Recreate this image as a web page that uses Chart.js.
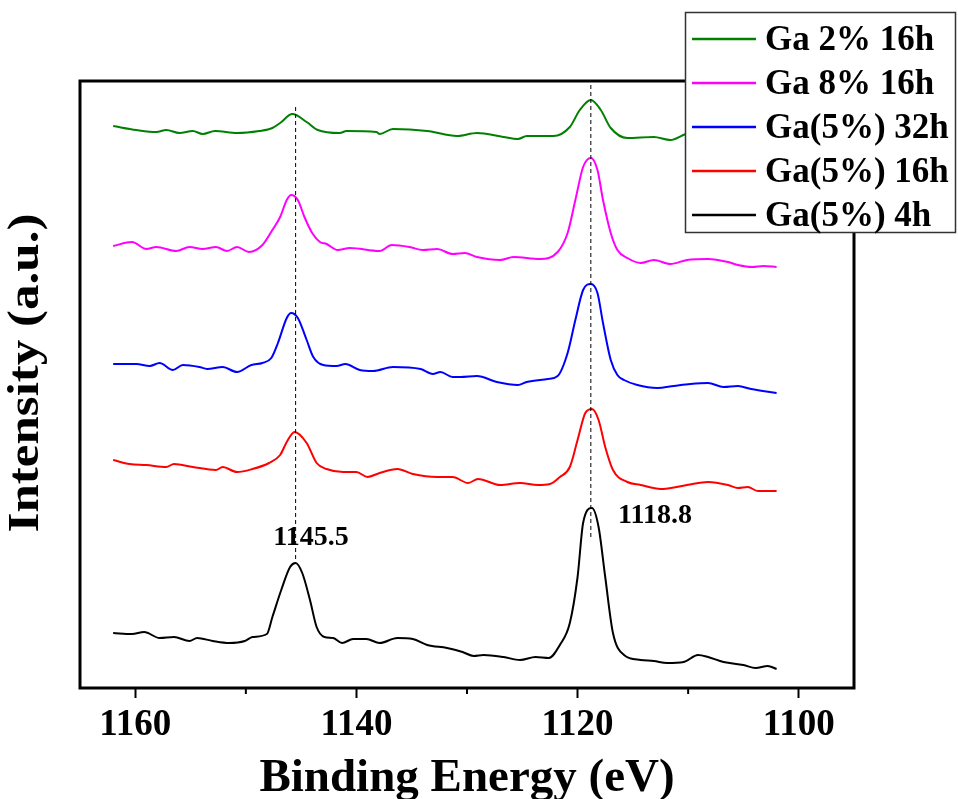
<!DOCTYPE html>
<html>
<head>
<meta charset="utf-8">
<script src="https://cdn.jsdelivr.net/npm/chart.js@4/dist/chart.umd.min.js"></script>
<style>
html,body{margin:0;padding:0;background:#fff;}
#wrap{width:958px;height:799px;position:relative;}
</style>
</head>
<body>
<div id="wrap"><canvas id="c" width="958" height="799"></canvas></div>
<script>
// ---- data (binding energy in eV, intensity in arbitrary offset units) ----
const seriesNames = ['Ga 2% 16h', 'Ga 8% 16h', 'Ga(5%) 32h', 'Ga(5%) 16h', 'Ga(5%) 4h'];
const seriesColors = ['#008000', '#FF00FF', '#0000FF', '#FF0000', '#000000'];

const eGa2_16 = [1162.0,1159.9,1158.1,1157.2,1156.0,1154.8,1153.9,1152.8,1150.8,1148.8,1147.6,1146.9,1145.8,1144.5,1143.5,1141.5,1140.9,1138.2,1137.9,1136.7,1133.6,1130.9,1129.1,1126.7,1125.4,1124.6,1122.2,1120.7,1119.8,1118.8,1117.9,1117.0,1115.5,1113.1,1111.6,1110.2,1108.9,1106.2,1102.0];
const iGa2_16 = [56.2,55.8,55.6,55.8,55.5,55.7,55.4,55.7,55.5,55.7,56.0,56.5,57.4,56.6,55.8,55.5,55.7,55.6,55.4,55.9,55.7,55.2,55.5,55.1,54.9,55.2,55.2,56.1,57.8,58.8,57.8,56.0,55.0,55.1,54.8,55.4,55.6,55.3,55.0];

const eGa8_16 = [1162.0,1160.3,1159.0,1158.1,1156.3,1155.1,1153.9,1152.7,1151.7,1150.8,1149.7,1148.5,1147.6,1146.9,1146.3,1145.9,1145.3,1144.7,1144.0,1143.3,1142.7,1141.7,1140.6,1137.9,1136.8,1135.2,1134.0,1132.7,1131.3,1130.2,1129.1,1127.0,1125.8,1123.4,1121.8,1120.9,1120.2,1119.5,1118.8,1118.2,1117.7,1117.0,1116.4,1115.5,1114.3,1113.1,1111.6,1110.1,1108.2,1106.4,1105.5,1104.2,1103.2,1102.0];
const iGa8_16 = [44.2,44.6,43.9,44.1,43.7,44.1,43.9,44.1,43.7,44.1,43.6,44.3,45.8,47.1,48.8,49.3,48.8,47.1,45.5,44.6,44.4,43.8,44.0,43.7,44.3,44.1,43.8,43.9,43.4,43.5,43.1,42.8,43.1,42.9,43.6,45.5,48.8,52.1,53.0,51.8,48.8,45.5,43.8,43.0,42.5,42.8,42.4,42.8,42.9,42.6,42.3,42.1,42.2,42.1];

const eGa5_32 = [1162.0,1159.9,1158.7,1157.8,1156.6,1155.7,1154.2,1153.5,1152.1,1150.8,1149.5,1148.5,1147.7,1147.1,1146.3,1145.9,1145.3,1144.5,1143.9,1143.0,1141.8,1141.0,1139.7,1138.5,1136.7,1134.2,1133.1,1132.4,1131.3,1130.6,1129.1,1127.3,1125.4,1124.6,1122.7,1121.8,1120.9,1120.2,1119.5,1118.8,1118.2,1117.7,1117.0,1116.4,1115.8,1114.6,1112.8,1111.3,1109.8,1108.2,1106.8,1105.5,1104.3,1102.0];
const iGa5_32 = [32.4,32.4,32.2,32.5,31.8,32.3,32.1,31.9,32.1,31.6,32.3,32.5,33.0,34.5,37.0,37.5,37.0,34.8,33.1,32.3,32.2,32.4,31.8,31.7,32.1,31.9,31.4,31.6,31.1,31.1,31.2,30.6,30.3,30.6,30.9,31.2,33.5,36.8,39.8,40.4,39.5,36.5,32.8,31.3,30.8,30.3,30.0,30.2,30.4,30.5,30.1,30.2,29.9,29.5];

const eGa5_16 = [1162.0,1160.5,1159.0,1157.2,1156.5,1154.8,1152.7,1152.1,1150.8,1149.4,1147.9,1146.9,1146.3,1145.6,1144.5,1143.6,1142.7,1141.2,1140.0,1139.0,1137.9,1136.3,1134.9,1132.7,1131.3,1129.9,1129.0,1127.0,1125.2,1123.6,1122.5,1121.6,1120.7,1120.0,1119.3,1118.7,1118.1,1117.5,1116.8,1115.5,1114.3,1112.5,1110.1,1108.2,1106.4,1105.5,1104.6,1103.7,1102.0];
const iGa5_16 = [22.8,22.4,22.3,22.1,22.4,22.1,21.8,22.1,21.6,21.9,22.5,23.3,24.6,25.6,24.5,22.5,21.9,21.6,21.6,21.1,21.5,21.9,21.4,21.1,21.1,20.5,20.9,20.3,20.5,20.3,20.4,21.1,22.1,24.8,27.5,27.9,26.8,24.1,21.8,20.6,20.3,19.9,20.3,20.6,20.3,20.0,20.1,19.7,19.7];

const eGa5_4 = [1162.0,1160.3,1159.2,1157.8,1156.5,1155.1,1154.4,1153.0,1151.5,1150.1,1149.4,1148.1,1147.6,1146.8,1146.0,1145.5,1144.9,1144.2,1143.6,1142.9,1142.1,1141.3,1140.3,1139.1,1137.9,1136.3,1134.9,1133.6,1131.8,1130.4,1129.4,1128.5,1126.7,1125.2,1123.8,1122.6,1121.6,1120.7,1120.0,1119.5,1118.7,1118.1,1117.5,1116.8,1115.8,1114.3,1113.1,1111.9,1110.4,1109.1,1108.2,1106.8,1105.0,1103.9,1102.8,1102.0];
const iGa5_4 = [5.5,5.4,5.6,5.0,5.1,4.7,5.0,4.7,4.5,4.7,5.1,5.4,7.1,9.8,12.1,12.5,11.5,8.8,6.1,5.1,5.0,4.5,4.9,4.9,4.5,5.0,4.9,4.3,4.0,3.6,3.2,3.3,3.1,2.8,3.1,3.0,4.3,6.5,11.1,16.5,18.0,16.1,11.1,5.5,3.3,2.8,2.7,2.5,2.6,3.3,3.1,2.6,2.3,2.0,2.2,1.9];

// peak reference lines and labels
const peakEnergies = [1145.5, 1118.8];
const peakLineTop = [58.1, 60.3];
const peakLineBottom = [12.6, 14.8];
const peakLabels = ['1145.5', '1118.8'];
const peakLabelE = [1144.1, 1113.0];
const peakLabelI = [14.3, 16.5];

// axis ticks and titles
const xTickValues = [1160, 1140, 1120, 1100];
const xTickLabels = ['1160', '1140', '1120', '1100'];
const xMinorTicks = [1150, 1130, 1110];
const xTitle = 'Binding Energy (eV)';
const yTitle = 'Intensity (a.u.)';

// ---- build chart ----
const SERIF = '"Liberation Serif", "Times New Roman", serif';
const energySets = [eGa2_16, eGa8_16, eGa5_32, eGa5_16, eGa5_4];
const intensitySets = [iGa2_16, iGa8_16, iGa5_32, iGa5_16, iGa5_4];

const datasets = [];
peakEnergies.forEach((e, i) => {
  datasets.push({
    label: 'peak' + i,
    data: [{x: e, y: peakLineTop[i]}, {x: e, y: peakLineBottom[i]}],
    borderColor: '#000', borderWidth: 1, borderDash: [4, 3],
    pointRadius: 0, fill: false
  });
});
seriesNames.forEach((name, k) => {
  datasets.push({
    label: name,
    data: energySets[k].map((x, i) => ({x: x, y: intensitySets[k][i]})),
    borderColor: seriesColors[k], borderWidth: 2,
    pointRadius: 0, fill: false, cubicInterpolationMode: 'monotone'
  });
});

const overlay = {
  id: 'overlay',
  afterDraw(chart) {
    const {ctx, chartArea: a, scales: {x, y}} = chart;
    ctx.save();
    // frame
    ctx.strokeStyle = '#000';
    ctx.lineWidth = 3;
    ctx.strokeRect(a.left, a.top, a.right - a.left, a.bottom - a.top);
    // minor ticks
    ctx.lineWidth = 2;
    xMinorTicks.forEach(v => {
      const px = x.getPixelForValue(v);
      ctx.beginPath(); ctx.moveTo(px, a.bottom); ctx.lineTo(px, a.bottom + 6); ctx.stroke();
    });
    // y title (slightly condensed like the original)
    ctx.save();
    ctx.translate(27, 373);
    ctx.scale(0.85, 1);
    ctx.rotate(-Math.PI / 2);
    ctx.font = 'bold 51px ' + SERIF;
    ctx.fillStyle = '#000';
    ctx.textAlign = 'center';
    ctx.textBaseline = 'middle';
    ctx.fillText(yTitle, 0, 0);
    ctx.restore();
    // peak labels
    ctx.font = 'bold 28px ' + SERIF;
    ctx.fillStyle = '#000';
    ctx.textAlign = 'center';
    ctx.textBaseline = 'alphabetic';
    peakLabels.forEach((t, i) => {
      ctx.fillText(t, x.getPixelForValue(peakLabelE[i]), y.getPixelForValue(peakLabelI[i]));
    });
    // legend
    const bx = 685, by = 12, bw = 271, bh = 221;
    ctx.fillStyle = '#fff';
    ctx.fillRect(bx, by, bw, bh);
    ctx.strokeStyle = '#333';
    ctx.lineWidth = 1.5;
    ctx.strokeRect(bx + 0.5, by + 0.5, bw - 1, bh - 1);
    ctx.font = 'bold 35px ' + SERIF;
    ctx.textAlign = 'left';
    ctx.textBaseline = 'alphabetic';
    seriesNames.forEach((name, k) => {
      const ry = 39 + k * 44;
      ctx.strokeStyle = seriesColors[k];
      ctx.lineWidth = 2.5;
      ctx.beginPath(); ctx.moveTo(692, ry); ctx.lineTo(756, ry); ctx.stroke();
      ctx.fillStyle = '#000';
      ctx.fillText(name, 765, ry + 11);
    });
    ctx.restore();
  }
};

new Chart(document.getElementById('c'), {
  type: 'line',
  data: {datasets: datasets},
  options: {
    responsive: false,
    animation: false,
    devicePixelRatio: 1,
    layout: {padding: {top: 81, right: 104, left: 0, bottom: 0}},
    plugins: {legend: {display: false}, tooltip: {enabled: false}},
    scales: {
      x: {
        type: 'linear', reverse: true, min: 1095, max: 1165,
        afterBuildTicks: s => { s.ticks = xTickValues.map(v => ({value: v})); },
        afterFit: s => { s.height = 111; },
        grid: {display: true, drawOnChartArea: false, drawTicks: true, tickLength: 10, tickWidth: 2, tickColor: '#000'},
        border: {display: false},
        ticks: {
          font: {family: SERIF, size: 37, weight: 'bold'}, color: '#000', padding: 5,
          maxRotation: 0, autoSkip: false,
          callback: (v) => { const i = xTickValues.indexOf(v); return i >= 0 ? xTickLabels[i] : ''; }
        },
        title: {display: true, text: xTitle, color: '#000',
          font: {family: SERIF, size: 47, weight: 'bold', lineHeight: 0.85}, padding: {top: 0, bottom: 0}}
      },
      y: {
        min: 0, max: 60.7,
        afterFit: s => { s.width = 80; },
        grid: {display: false},
        border: {display: false},
        ticks: {display: false},
        title: {display: false}
      }
    }
  },
  plugins: [overlay]
});
</script>
</body>
</html>
